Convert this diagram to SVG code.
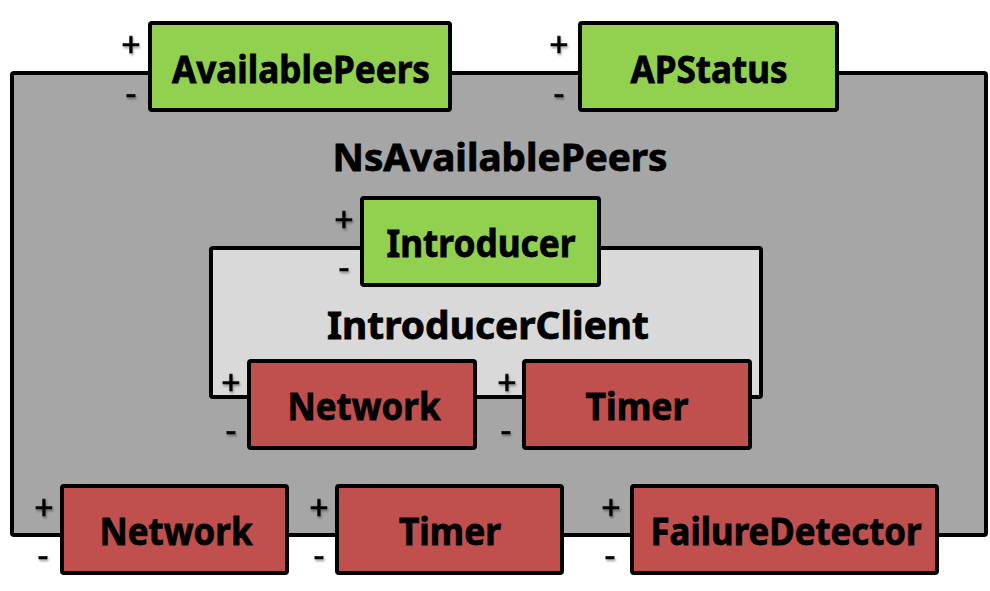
<svg xmlns="http://www.w3.org/2000/svg" width="990" height="591" viewBox="0 0 990 591">
<defs>
<filter id="sh" x="-50%" y="-50%" width="200%" height="200%"><feDropShadow dx="1" dy="2" stdDeviation="1.2" flood-color="#000" flood-opacity="0.35"/></filter>
</defs>
<style>
.box{stroke:#000;stroke-width:4;stroke-linejoin:round}
.g{fill:#92D050}.r{fill:#C0504D}.dk{fill:#A6A6A6}.lt{fill:#D9D9D9}
.lbl{font-family:"Noto Sans","DejaVu Sans",sans-serif;font-weight:bold;font-size:38px;fill:#000;stroke:#000;stroke-width:0.8;text-anchor:middle}
.pm{font-family:"Noto Sans","DejaVu Sans",sans-serif;font-size:34px;fill:#000;stroke:#000;stroke-width:0.6;text-anchor:middle;filter:url(#sh)}
</style>
<g id="NsAvailablePeers">
<rect class="box dk" x="12" y="73" width="974" height="462" rx="2"/>
<text class="lbl" x="500" y="171" textLength="335" lengthAdjust="spacingAndGlyphs">NsAvailablePeers</text>
</g>
<g id="AvailablePeers">
<rect class="box g" x="150" y="23" width="300" height="87" rx="2"/>
<text class="lbl" x="301" y="83" textLength="258" lengthAdjust="spacingAndGlyphs">AvailablePeers</text>
<text class="pm" x="131" y="57">+</text><text class="pm" x="131" y="105">-</text>
</g>
<g id="APStatus">
<rect class="box g" x="580" y="23" width="257" height="87" rx="2"/>
<text class="lbl" x="709" y="83" textLength="157" lengthAdjust="spacingAndGlyphs">APStatus</text>
<text class="pm" x="559" y="57">+</text><text class="pm" x="559" y="105">-</text>
</g>
<g id="IntroducerClient">
<rect class="box lt" x="211" y="248" width="550" height="149" rx="2"/>
<text class="lbl" x="488" y="339" textLength="322" lengthAdjust="spacingAndGlyphs">IntroducerClient</text>
</g>
<g id="Introducer">
<rect class="box g" x="362" y="198" width="237" height="87" rx="2"/>
<text class="lbl" x="481" y="257" textLength="189" lengthAdjust="spacingAndGlyphs">Introducer</text>
<text class="pm" x="344" y="232">+</text><text class="pm" x="344" y="279">-</text>
</g>
<g id="NetworkInner">
<rect class="box r" x="249" y="361" width="226" height="87" rx="2"/>
<text class="lbl" x="364" y="420" textLength="153" lengthAdjust="spacingAndGlyphs">Network</text>
<text class="pm" x="231" y="395">+</text><text class="pm" x="231" y="442">-</text>
</g>
<g id="TimerInner">
<rect class="box r" x="524" y="361" width="226" height="87" rx="2"/>
<text class="lbl" x="637" y="420" textLength="103" lengthAdjust="spacingAndGlyphs">Timer</text>
<text class="pm" x="507" y="395">+</text><text class="pm" x="506" y="442">-</text>
</g>
<g id="Network">
<rect class="box r" x="62" y="486" width="225" height="87" rx="2"/>
<text class="lbl" x="176" y="545" textLength="153" lengthAdjust="spacingAndGlyphs">Network</text>
<text class="pm" x="44" y="520">+</text><text class="pm" x="43" y="567">-</text>
</g>
<g id="Timer">
<rect class="box r" x="337" y="486" width="225" height="87" rx="2"/>
<text class="lbl" x="450" y="545" textLength="102" lengthAdjust="spacingAndGlyphs">Timer</text>
<text class="pm" x="319" y="520">+</text><text class="pm" x="319" y="567">-</text>
</g>
<g id="FailureDetector">
<rect class="box r" x="632" y="486" width="305" height="87" rx="2"/>
<text class="lbl" x="786" y="545" textLength="271" lengthAdjust="spacingAndGlyphs">FailureDetector</text>
<text class="pm" x="611" y="520">+</text><text class="pm" x="610" y="567">-</text>
</g>
<g id="connectors"></g>
</svg>
